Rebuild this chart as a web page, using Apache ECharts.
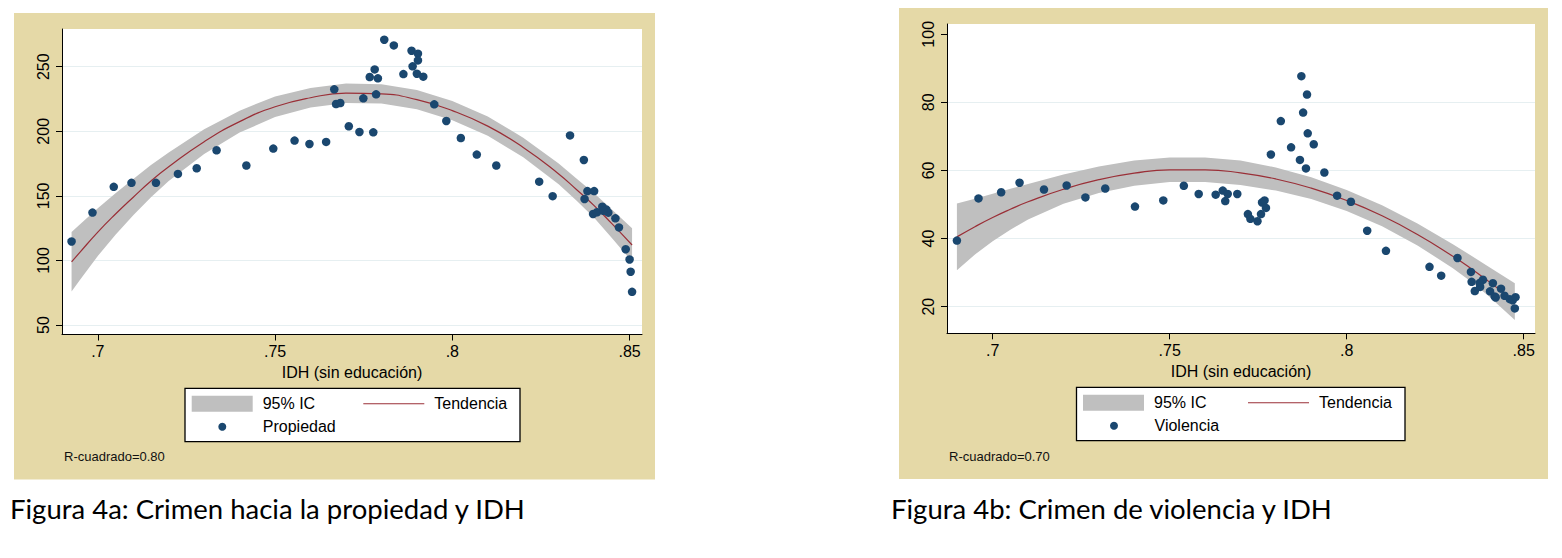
<!DOCTYPE html>
<html>
<head>
<meta charset="utf-8">
<title>Figura 4a y 4b: Crimen e IDH</title>
<script src="https://cdn.jsdelivr.net/npm/echarts@6.0.0/dist/echarts.min.js"></script>
<style>
  html, body { margin: 0; padding: 0; background: #ffffff; }
  #chart { width: 1562px; height: 558px; }
</style>
</head>
<body>
<div id="chart"></div>
<script>
// ---- Figura 4a: crimen hacia la propiedad ----
var propX = [0.6926, 0.6985, 0.7045, 0.7095, 0.7164, 0.7226, 0.7279, 0.7335, 0.7419, 0.7495,
  0.7555, 0.7597, 0.7644, 0.7667, 0.7672, 0.7684, 0.7708, 0.7738, 0.7749, 0.7767,
  0.7777, 0.7781, 0.7785, 0.7790, 0.7808, 0.7835, 0.7862, 0.7885, 0.7888, 0.7903,
  0.7903, 0.7900, 0.7918, 0.7949, 0.7983, 0.8024, 0.8069, 0.8124, 0.8245, 0.8283,
  0.8332, 0.8371, 0.8373, 0.8381, 0.8400, 0.8397, 0.8408, 0.8423, 0.8434, 0.8440,
  0.8426, 0.8460, 0.8470, 0.8489, 0.8500, 0.8503, 0.8507];
var propY = [114.7, 137.1, 157.0, 160.1, 160.1, 167.0, 171.4, 185.3, 173.5, 186.6,
  192.8, 190.2, 191.8, 232.5, 221.1, 221.9, 203.9, 199.5, 225.5, 242.0,
  199.2, 247.9, 228.6, 241.0, 270.9, 266.5, 244.3, 262.4, 250.3, 260.1,
  254.9, 244.6, 242.3, 220.9, 208.0, 194.8, 182.0, 173.5, 161.0, 149.8,
  196.8, 177.8, 147.6, 153.7, 153.7, 136.0, 137.3, 141.6, 139.5, 137.0,
  138.5, 132.6, 125.6, 108.7, 100.8, 91.3, 75.7];
var trendXProp = [0.6926, 0.695, 0.70, 0.705, 0.71, 0.715, 0.72, 0.73, 0.74, 0.75, 0.76,
  0.77, 0.78, 0.79, 0.80, 0.81, 0.82, 0.83, 0.835, 0.84, 0.845, 0.8507];
var trendProp = [99, 106.5, 122, 136, 149, 161.5, 172.5, 192, 207.5, 219, 226,
  229.5, 229, 224.5, 216, 204, 187.5, 167, 155, 142.5, 128.5, 112];
var ciLoProp = [76, 85, 103.5, 120, 135, 149, 161.5, 182.5, 199, 211, 218.5,
  222, 221.5, 217, 208.5, 196.5, 180, 159, 146.5, 133, 117.5, 99];
var ciHiProp = [122, 128, 140.5, 152, 163, 174, 183.5, 201.5, 216, 227, 233.5,
  237, 236.5, 232, 223.5, 211.5, 195, 175, 163.5, 152, 139.5, 125];

// ---- Figura 4b: crimen de violencia ----
var violX = [0.6899, 0.6960, 0.7024, 0.7076, 0.7145, 0.7209, 0.7262, 0.7318, 0.7402, 0.7482,
  0.7540, 0.7582, 0.7630, 0.7650, 0.7657, 0.7664, 0.7691, 0.7721, 0.7728, 0.7748,
  0.7758, 0.7761, 0.7768, 0.7772, 0.7786, 0.7814, 0.7843, 0.7868, 0.7872, 0.7877,
  0.7885, 0.7888, 0.7890, 0.7907, 0.7937, 0.7973, 0.8012, 0.8058, 0.8111, 0.8234,
  0.8267, 0.8313, 0.8351, 0.8353, 0.8362, 0.8377, 0.8385, 0.8376, 0.8405, 0.8413,
  0.8418, 0.8421, 0.8436, 0.8446, 0.8461, 0.8469, 0.8477, 0.8475];
var violY = [39.4, 51.8, 53.6, 56.4, 54.4, 55.6, 52.1, 54.7, 49.4, 51.2,
  55.5, 53.1, 52.9, 54.1, 51.0, 53.1, 53.1, 47.2, 45.8, 45.1,
  47.2, 50.6, 51.2, 49.0, 64.7, 74.5, 66.8, 63.1, 87.7, 77.0,
  60.6, 82.3, 70.9, 67.7, 59.4, 52.6, 50.8, 42.3, 36.4, 31.7,
  29.1, 34.3, 30.2, 27.3, 24.6, 25.8, 27.9, 27.0, 24.5, 26.9,
  23.0, 22.7, 25.3, 23.2, 22.2, 21.9, 22.8, 19.5];
var trendXViol = [0.6899, 0.695, 0.70, 0.705, 0.71, 0.72, 0.73, 0.74, 0.75, 0.76,
  0.77, 0.78, 0.79, 0.80, 0.81, 0.82, 0.83, 0.835, 0.84, 0.8475];
var trendViol = [40.5, 43.5, 46.2, 48.6, 50.8, 54.5, 57.3, 59.2, 60.2, 60.2,
  59.3, 57.5, 54.8, 51.2, 46.7, 41.2, 34.8, 31.3, 27.5, 21.5];
var ciLoViol = [30.7, 35.3, 39.2, 42.6, 45.6, 50.2, 53.4, 55.5, 56.6, 56.6,
  55.7, 54.1, 51.6, 48.1, 43.6, 38.0, 31.3, 27.5, 23.2, 16.1];
var ciHiViol = [50.3, 51.7, 53.2, 54.6, 56.0, 58.8, 61.2, 62.9, 63.8, 63.8,
  62.9, 60.9, 58.0, 54.3, 49.8, 44.4, 38.3, 35.1, 31.8, 26.9];

// ---- ticks ----
var xTicks = [0.7, 0.75, 0.8, 0.85];
var yTicksProp = [50, 100, 150, 200, 250];
var yTicksViol = [20, 40, 60, 80, 100];

var BEIGE = '#e5d9a7';
var NAVY = '#1a476f';
var MAROON = '#9a2f37';
var CI_GRAY = '#bfbfbf';
var GRID_LINE = '#e6eff1';
var FONT = '"Liberation Sans", Arial, sans-serif';
var CAPTION_FONT = 'Lato, "Open Sans", sans-serif';

function pairs(xs, ys) {
  return xs.map(function (x, i) { return [x, ys[i]]; });
}

// 95% band: one polygon (upper edge forward, lower edge back) placed through the axes
function bandRenderer(xs, lo, hi) {
  return function (params, api) {
    if (params.dataIndex !== 0) return null;
    var pts = [];
    for (var i = 0; i < xs.length; i++) pts.push(api.coord([xs[i], hi[i]]));
    for (var j = xs.length - 1; j >= 0; j--) pts.push(api.coord([xs[j], lo[j]]));
    return {
      type: 'polygon',
      shape: { points: pts },
      style: { fill: CI_GRAY, stroke: null }
    };
  };
}

function makeXAxis(gridIndex, min, max) {
  return {
    type: 'value', gridIndex: gridIndex, min: min, max: max,
    name: 'IDH (sin educación)', nameLocation: 'middle', nameGap: 29,
    nameTextStyle: { fontFamily: FONT, fontSize: 16, color: '#000' },
    axisLine: { show: true, onZero: false, lineStyle: { color: '#000', width: 1 } },
    axisTick: { show: true, length: 6, customValues: xTicks, lineStyle: { color: '#000', width: 1 } },
    axisLabel: {
      customValues: xTicks, margin: 9, fontFamily: FONT, fontSize: 16, color: '#000',
      formatter: function (v) { return String(v).replace(/^0\./, '.'); }
    },
    splitLine: { show: false }
  };
}

function makeYAxis(gridIndex, min, max, ticks, lineColors) {
  return {
    type: 'value', gridIndex: gridIndex, min: min, max: max,
    axisLine: { show: true, onZero: false, lineStyle: { color: '#000', width: 1 } },
    axisTick: { show: true, length: 6, customValues: ticks, lineStyle: { color: '#000', width: 1 } },
    axisLabel: { customValues: ticks, rotate: 90, margin: 11, fontFamily: FONT, fontSize: 16, color: '#000' },
    splitLine: { show: true, lineStyle: { color: lineColors, width: 1 } }
  };
}

function makeSeries(idx, xs, trend, lo, hi, ptsX, ptsY, dotName) {
  return [
    {
      name: '95% IC', type: 'custom', xAxisIndex: idx, yAxisIndex: idx,
      data: xs.map(function (x, i) { return [x, lo[i], hi[i]]; }),
      encode: { x: 0, y: [1, 2] },
      renderItem: bandRenderer(xs, lo, hi),
      itemStyle: { color: CI_GRAY }, silent: true, z: 2
    },
    {
      name: 'Tendencia', type: 'line', xAxisIndex: idx, yAxisIndex: idx,
      data: pairs(xs, trend), smooth: true, symbol: 'none', silent: true,
      color: MAROON, lineStyle: { color: MAROON, width: 1.2 }, itemStyle: { color: MAROON }, z: 3
    },
    {
      name: dotName, type: 'scatter', xAxisIndex: idx, yAxisIndex: idx,
      data: pairs(ptsX, ptsY), symbol: 'circle', symbolSize: 8.5,
      color: NAVY, itemStyle: { color: NAVY, opacity: 1 }, z: 4
    }
  ];
}

// dotLeft is the left edge of the dot itself (the empty part of the icon box is trimmed)
function makeLegends(boxLeft, rowTop, tendLeft, dotLeft, dotName) {
  var text = { fontFamily: FONT, fontSize: 16, color: '#000', lineHeight: 16, padding: [0, 0, 0, 5] };
  var base = { orient: 'horizontal', padding: 0, itemWidth: 61, selectedMode: false, textStyle: text };
  return [
    Object.assign({}, base, {
      left: boxLeft, top: rowTop, itemHeight: 16,
      data: [{ name: '95% IC', icon: 'path://M0,0H61V16H0Z', itemStyle: { color: CI_GRAY, borderWidth: 0, opacity: 1 } }]
    }),
    Object.assign({}, base, {
      left: tendLeft, top: rowTop, itemHeight: 16,
      data: [{ name: 'Tendencia', icon: 'path://M0,0H61V1H0Z', itemStyle: { color: MAROON, borderWidth: 0, opacity: 1 } }]
    }),
    Object.assign({}, base, {
      left: dotLeft, top: rowTop + 23, itemHeight: 8,
      data: [{ name: dotName, icon: 'circle', itemStyle: { color: NAVY, borderWidth: 0, opacity: 1 } }]
    })
  ];
}

var chart = echarts.init(document.getElementById('chart'), null, { renderer: 'svg' });

var option = {
  animation: false,
  backgroundColor: '#ffffff',
  grid: [
    { left: 62, top: 29, width: 580, height: 305.5, show: true, backgroundColor: '#ffffff', borderWidth: 0, outerBoundsMode: 'none' },
    { left: 947, top: 24, width: 588, height: 309.3, show: true, backgroundColor: '#ffffff', borderWidth: 0, outerBoundsMode: 'none' }
  ],
  xAxis: [
    makeXAxis(0, 0.6899, 0.8535),
    makeXAxis(1, 0.6871, 0.8532)
  ],
  yAxis: [
    makeYAxis(0, 42.7, 279.2, yTicksProp, [GRID_LINE]),
    makeYAxis(1, 12.18, 103.02, yTicksViol, [GRID_LINE, GRID_LINE, GRID_LINE, GRID_LINE, 'rgba(0,0,0,0)'])
  ],
  legend: makeLegends(191.7, 395.7, 363.3, 218.3, 'Propiedad')
    .concat(makeLegends(1083, 394.7, 1248, 1110, 'Violencia')),
  series: makeSeries(0, trendXProp, trendProp, ciLoProp, ciHiProp, propX, propY, 'Propiedad')
    .concat(makeSeries(1, trendXViol, trendViol, ciLoViol, ciHiViol, violX, violY, 'Violencia')),
  graphic: [
    // panel backgrounds
    { type: 'rect', z: -10, silent: true, shape: { x: 14, y: 13, width: 641, height: 466.5 }, style: { fill: BEIGE } },
    { type: 'rect', z: -10, silent: true, shape: { x: 899, y: 8, width: 649, height: 471 }, style: { fill: BEIGE } },
    // legend frames
    { type: 'rect', z: 1, silent: true, shape: { x: 185, y: 388.3, width: 335, height: 53.4 }, style: { fill: '#ffffff', stroke: '#000', lineWidth: 1.3 } },
    { type: 'rect', z: 1, silent: true, shape: { x: 1076.5, y: 387.3, width: 328.5, height: 53.4 }, style: { fill: '#ffffff', stroke: '#000', lineWidth: 1.3 } },
    // notes
    { type: 'text', z: 5, silent: true, x: 64, y: 456.7, style: { text: 'R-cuadrado=0.80', fontFamily: FONT, fontSize: 13, fill: '#111', verticalAlign: 'middle' } },
    { type: 'text', z: 5, silent: true, x: 949, y: 456, style: { text: 'R-cuadrado=0.70', fontFamily: FONT, fontSize: 13, fill: '#111', verticalAlign: 'middle' } },
    // captions
    { type: 'text', z: 5, silent: true, x: 10, y: 508, style: { text: 'Figura 4a: Crimen hacia la propiedad y IDH', fontFamily: CAPTION_FONT, fontSize: 27.5, fill: '#000', verticalAlign: 'middle' } },
    { type: 'text', z: 5, silent: true, x: 891, y: 508, style: { text: 'Figura 4b: Crimen de violencia y IDH', fontFamily: CAPTION_FONT, fontSize: 27.5, fill: '#000', verticalAlign: 'middle' } }
  ]
};

chart.setOption(option);
</script>
</body>
</html>
